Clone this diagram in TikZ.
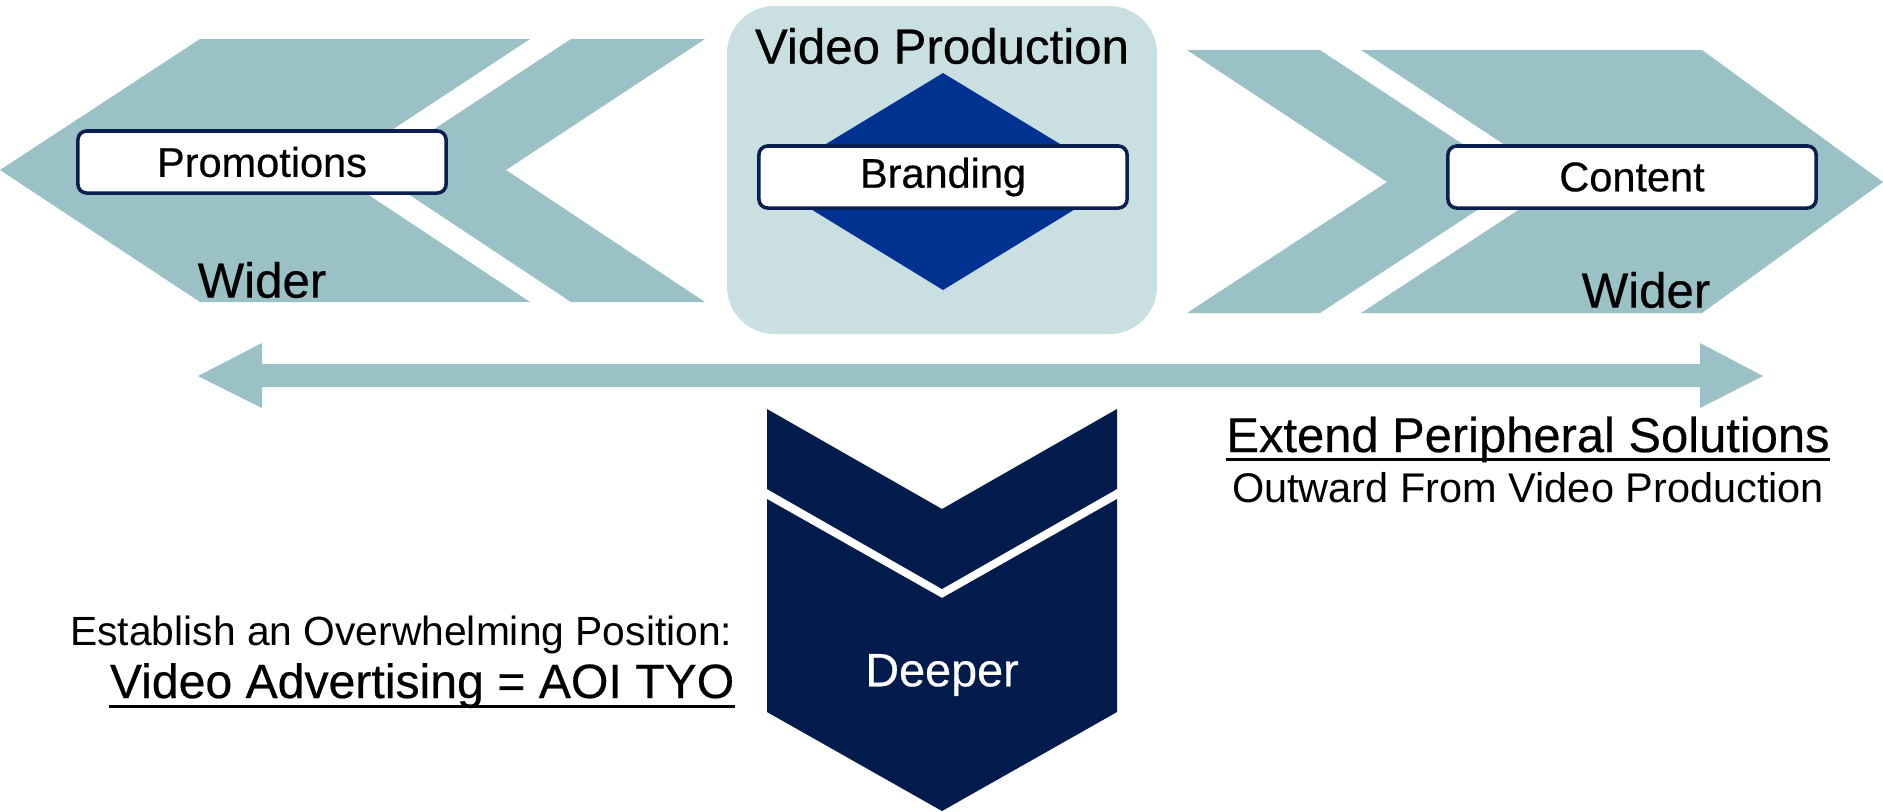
\documentclass[tikz,border=0pt]{standalone}
\usepackage{fontspec}
\setmainfont{Liberation Sans}
\newfontfamily\medfont[FakeBold=0.45]{Liberation Sans}
\usetikzlibrary{calc, positioning}

\definecolor{teal}{HTML}{9AC2C6}
\definecolor{paleteal}{HTML}{C9DFE2}
\definecolor{royal}{HTML}{003391}
\definecolor{navy}{HTML}{011B4C}
\definecolor{boxline}{HTML}{0A1E50}

\tikzset{
  tagbox/.style={draw=boxline, line width=1pt, fill=white, rounded corners=2.5pt,
    minimum width=3.68cm, minimum height=0.62cm, inner sep=0pt,
    font=\medfont\fontsize{11.8}{13}\selectfont},
  widertxt/.style={inner sep=0pt, font=\medfont\fontsize{14}{16}\selectfont},
  plaintxt/.style={inner sep=0pt},
  uline/.style={line width=0.85pt}
}

\begin{document}
\begin{tikzpicture}[x=0.01cm, y=-0.01cm]
  \useasboundingbox (0,0) rectangle (1883,811);

  % Left chevron - wider
  \fill[teal] (0,170) -- (200,39) -- (530,39) -- (331,170) -- (530,302) -- (200,302) -- cycle;
  \fill[teal] (571,39) -- (705,39) -- (506,170) -- (705,302) -- (571,302) -- (372,170) -- cycle;
  \node[tagbox] (promo) at (262,162) {Promotions};
  \node[widertxt] (widerL) at (262,280) {Wider};

  % Centre - video production
  \fill[paleteal, rounded corners=13.5pt] (727,6) rectangle (1157,334);
  \node[plaintxt, font=\medfont\fontsize{14}{16}\selectfont] (vidprod) at (942,46) {Video Production};
  \fill[royal] (943,73) -- (1121,181) -- (943,290) -- (765,181) -- cycle;
  \node[tagbox] (brand) at (943,177) {Branding};

  % Right chevron - wider
  \fill[teal] (1187,50) -- (1320,50) -- (1520,182) -- (1320,313) -- (1187,313) -- (1387,182) -- cycle;
  \fill[teal] (1361,50) -- (1702,50) -- (1883,182) -- (1702,313) -- (1361,313) -- (1561,182) -- cycle;
  \node[tagbox] (content) at (1632,177) {Content};
  \node[widertxt] (widerR) at (1646,290) {Wider};

  % Double arrow
  \fill[teal] (198,376) -- (262,343) -- (262,364) -- (1700,364) -- (1700,343) -- (1763,376)
    -- (1700,408) -- (1700,387) -- (262,387) -- (262,408) -- cycle;

  % Deeper chevron
  \fill[navy] (767,409) -- (942,509) -- (1117,409) -- (1117,489) -- (942,589) -- (767,489) -- cycle;
  \fill[navy] (767,499) -- (942,598) -- (1117,499) -- (1117,712) -- (942,811) -- (767,712) -- cycle;
  \node[plaintxt, text=white, font=\medfont\fontsize{13.3}{15}\selectfont] (deeper) at (942,675) {Deeper};

  % Right texts
  \node[plaintxt, anchor=base, font=\medfont\fontsize{13.9}{16}\selectfont] (extend) at (1528,452) {Extend Peripheral Solutions};
  \draw[uline] ($(extend.base west)+(0,7)$) -- ($(extend.base east)+(0,7)$);
  \node[plaintxt, anchor=base, font=\fontsize{11.8}{14}\selectfont] (outward) at (1528,502) {Outward From Video Production};

  % Left texts
  \node[plaintxt, anchor=base east, font=\fontsize{11.6}{14}\selectfont] (establish) at (733,645) {Establish an Overwhelming Position:};
  \node[plaintxt, anchor=base east, font=\medfont\fontsize{13.7}{16}\selectfont] (vidadv) at (735,698) {Video Advertising = AOI TYO};
  \draw[uline] ($(vidadv.base west)+(0,8)$) -- ($(vidadv.base east)+(0,8)$);
\end{tikzpicture}
\end{document}
